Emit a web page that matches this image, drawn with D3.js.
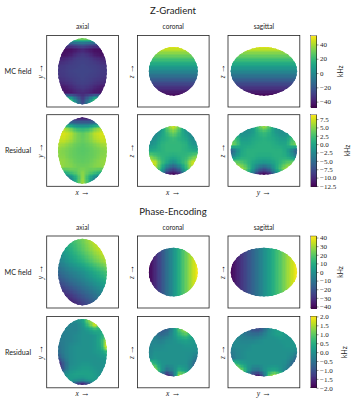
<!DOCTYPE html>
<html>
<head>
  <meta charset="utf-8">
  <title>Z-Gradient / Phase-Encoding</title>
  <script src="https://d3js.org/d3.v7.min.js"></script>
  <style>
  html, body { margin: 0; padding: 0; background: #fff; }
  svg { display: block; }
  text { fill: #222; }
  .sans { font-family: Lato, "Open Sans", sans-serif; }
  .serif { font-family: "Liberation Serif", serif; }
  .arrow { font-family: "Liberation Serif", serif; font-size: 9px; }
  .frame { fill: none; stroke: #222; stroke-width: 0.8px; }
  .cell { shape-rendering: crispEdges; }
  .cbar .domain { stroke: #222; stroke-width: 0.4px; }
  .cbar line { stroke: #222; stroke-width: 0.5px; }
  .cbar text { font-family: "Liberation Serif", serif; font-size: 7px; }
  </style>
</head>
<body>
  <svg id="chart" width="356" height="400"></svg>
  <script>
// values in kHz, grid rows run top to bottom, columns left to right
const zFieldAxial = [
  [35,35,35,35,35,35,35,35,35],
  [-24,-24,-22,-18,-15,-18,-22,-24,-24],
  [-42,-44,-44,-41,-37,-41,-44,-44,-42],
  [-43,-43,-40,-34,-31,-34,-40,-43,-43],
  [-37,-35,-32,-29,-28,-29,-32,-35,-37],
  [-32,-31,-29,-28,-27,-28,-29,-31,-32],
  [-31,-30,-28,-27,-27,-27,-28,-30,-31],
  [-32,-31,-29,-28,-27,-28,-29,-31,-32],
  [-36,-34,-32,-29,-28,-29,-32,-34,-36],
  [-42,-41,-37,-33,-31,-33,-37,-41,-42],
  [-30,-42,-42,-38,-36,-38,-42,-42,-30],
  [25,25,20,-10,-30,-10,20,25,25],
  [35,35,35,0,-25,0,35,35,35]
];
const zFieldCoronal = [
  [48,48,48],[35,35,35],[22,22,22],[10,10,10],[-2,-2,-2],
  [-14,-14,-14],[-26,-26,-26],[-36,-36,-36],[-45,-45,-45]
];
const zFieldSagittal = [
  [48,48,48],[34,34,34],[22,22,22],[10,10,10],[-1,-1,-1],
  [-13,-13,-13],[-25,-25,-25],[-35,-35,-35],[-46,-46,-46]
];
const zResAxial = [
  [-11,-11,-11,-11,-11,-11,-11,-11,-11],
  [-4,-4,-5,-6,-6,-6,-5,-4,-4],
  [6,6,4,1.5,1,1.5,4,6,6],
  [7.5,7.5,6.5,4.5,3.5,4.5,6.5,7.5,7.5],
  [7,7,6,4.5,3.8,4.5,6,7,7],
  [6,5.5,4.6,3.8,3.4,3.8,4.6,5.5,6],
  [5,4.6,4,3.5,3.2,3.5,4,4.6,5],
  [5,4.8,4,3.6,3.4,3.6,4,4.8,5],
  [5.6,5.2,4.5,3.8,3.6,3.8,4.5,5.2,5.6],
  [6,5,4.8,4.2,4,4.2,4.8,5,6],
  [0,1,2.5,3.5,5,3.5,2.5,1,0],
  [-7,-6,-3,1,5.5,1,-3,-6,-7],
  [-7,-7,-5,2,6,2,-5,-7,-7]
];
const zResCoronal = [
  [-3,-3,-2,4,7.5,4,-2,-3,-3],
  [-3,-3,-1,2,4.5,2,-1,-3,-3],
  [-3,-2,0,1,2,1,0,-2,-3],
  [-2,-1,1,1.5,1.5,1.5,1,-1,-2],
  [0,0.5,1,1.5,1.5,1.5,1,0.5,0],
  [5,3,1.5,1,0.5,1,1.5,3,5],
  [8,7,2.5,0,-2.5,0,2.5,7,8],
  [6,6,1,-5,-8,-5,1,6,6],
  [3,2,-3,-11,-12.5,-11,-3,2,3]
];
const zResSagittal = [
  [-2,-2,-2,-2,-1,3,6,3,-1,-2,-2,-2,-2],
  [0,-1,-2,-2,-1,1,2,1,-1,-2,-2,-1,0],
  [3,2,-1,-1,0,0.5,1,0.5,0,-1,-1,2,3],
  [5,3,0,0,0.5,1,1,1,0.5,0,0,3,5],
  [-7,-3,0,1,1,1,1,1,1,1,0,-3,-7],
  [-4,-1,0.5,1,1,0.5,0.5,0.5,1,1,0.5,-1,-4],
  [5,4,3,1.5,0,-1,-1.5,-1,0,1.5,3,4,5],
  [7,7,6,3,-1,-5,-7,-5,-1,3,6,7,7],
  [5,5,3,0,-5,-11,-12.5,-11,-5,0,3,5,5]
];
const peFieldAxial = [
  [5,15,24,36,41],
  [0,10,20,30,40],
  [-6,4,12,22,32],
  [-14,-6,0,9,18],
  [-24,-15,-8,0,8],
  [-34,-27,-18,-10,0],
  [-41,-37,-28,-18,-8]
];
const peFieldCoronal = [
  [-41,-32,-22,-11,0,11,22,32,41],
  [-41,-32,-22,-11,0,11,22,32,41],
  [-41,-32,-22,-11,0,11,22,32,41]
];
const peFieldSagittal = [
  [-41,-32,-22,-12,-1,9,20,31,41],
  [-41,-32,-22,-12,-1,9,20,31,41],
  [-41,-32,-22,-12,-1,9,20,31,41]
];
const peResAxial = [
  [0,0,0,0,0.3,1.4,1.2,0.5,0],
  [-0.3,-0.2,-0.2,-0.2,0.1,0.9,1.8,0.9,0.5],
  [-0.3,-0.3,-0.2,-0.2,0,0.2,0.5,0.4,0.4],
  [-0.3,-0.3,-0.2,-0.1,0,0,0.1,0.4,1],
  [-0.4,-0.3,-0.2,-0.1,0,0,0.1,0.5,1.7],
  [-0.5,-0.3,-0.1,0,0,0,0.1,0.4,1.9],
  [-0.6,-0.3,-0.1,0,0,0,0.1,0.2,0.6],
  [-0.9,-0.4,-0.1,0,0,0,0,0.1,0.1],
  [-1.6,-0.7,-0.1,0,0.1,0.1,0,0,0.1],
  [-1.8,-0.7,0,0.1,0.2,0.2,0.1,0,0],
  [-0.5,-0.1,0.2,0.3,0.3,0.3,0.2,0,0],
  [-0.2,0.1,0.2,0.1,0,0.2,0.2,0,0],
  [-0.2,-0.1,-0.4,-1.4,-1.9,-1.2,-0.1,0,0]
];
const peResCoronal = [
  [-0.3,-0.5,-1,-0.8,-0.1,1,1.6,0.8,0.3],
  [-0.3,-0.4,-0.7,-0.5,0,0.6,1,0.5,0.2],
  [-0.2,-0.2,-0.3,-0.1,0,0.2,0.3,0.2,0.1],
  [-0.2,-0.1,-0.1,0,0,0,0.1,0.1,0],
  [-0.2,0,0,0,0,0,0,0,-0.1],
  [-0.1,0.1,0,0,0,0,0,-0.1,-0.5],
  [1,0.6,0.1,0,0,0,0,-0.3,-1.2],
  [2,1.5,0.2,-0.5,-0.2,0.5,0.2,-0.3,-1],
  [1.5,1,-0.9,-1.9,-0.9,1.7,1.4,0,-0.5]
];
const peResSagittal = [
  [-0.2,-0.2,-0.4,-0.7,-1.1,-1.2,-0.7,-0.1,0.2,0.3,0.2,0,0],
  [-0.1,-0.2,-0.3,-0.5,-0.6,-0.6,-0.3,0,0.2,0.3,0.1,0,0],
  [-0.1,-0.1,-0.2,-0.2,-0.2,-0.1,0,0,0,0.1,0.1,0.1,0.1],
  [-0.2,-0.1,-0.1,-0.1,0,0,0,0,0,0,0.1,0.1,0.1],
  [-0.4,-0.2,-0.1,0,0,0,0,0,0,0,0,0,-0.2],
  [-0.6,-0.2,-0.1,0,0,0,0,0,0,0,0,-0.2,-0.7],
  [1,0.7,0.3,0.1,0,0,0,0,0,0,-0.1,-0.6,-1.3],
  [2,1.8,1.2,0.2,-0.4,-0.5,0,0.3,0.4,0.1,-0.3,-0.6,-1],
  [1.5,1.5,0.8,-0.5,-1.6,-2,-0.8,1.2,1.9,1,0,-0.3,-0.5]
];

const zFieldDomain = [-47.5, 52.5];
const zResDomain = [-12.6, 8.8];
const peFieldDomain = [-41.8, 41.8];
const peResDomain = [-2, 2];
const zFieldTicks = [-40, -20, 0, 20, 40];
const zResTicks = [-12.5, -10, -7.5, -5, -2.5, 0, 2.5, 5, 7.5];
const peFieldTicks = [-40, -30, -20, -10, 0, 10, 20, 30, 40];
const peResTicks = [-2, -1.5, -1, -0.5, 0, 0.5, 1, 1.5, 2];

const viewNames = ["axial", "coronal", "sagittal"];
const viewAxes = [["x", "y"], ["x", "z"], ["y", "z"]];
const rowNames = ["MC field", "Residual"];
const blockTitles = ["Z-Gradient", "Phase-Encoding"];

// half extent of the head along each axis, the frame runs from -1 to 1
const semi = { x: 0.68, y: 0.925, z: 0.675 };

const svg = d3.select("#chart");

const colLeft = [46.7, 137.4, 228];
const colRight = [118.4, 209.1, 299.8];
const cell = 0.0375;

function sample(grid, u, v) {
  // u,v in 0..1 across the grid, bilinear like imshow interpolation
  const ny = grid.length, nx = grid[0].length;
  const fx = Math.min(Math.max(u, 0), 1) * (nx - 1), fy = Math.min(Math.max(v, 0), 1) * (ny - 1);
  const x0 = Math.min(Math.floor(fx), nx - 2), y0 = Math.min(Math.floor(fy), ny - 2);
  const tx = fx - x0, ty = fy - y0;
  return (grid[y0][x0] * (1 - tx) + grid[y0][x0 + 1] * tx) * (1 - ty)
       + (grid[y0 + 1][x0] * (1 - tx) + grid[y0 + 1][x0 + 1] * tx) * ty;
}

function axisLabel(sel, name) {
  sel.append("tspan").attr("class", "serif").attr("font-style", "italic").text(name);
  sel.append("tspan").attr("class", "arrow").attr("dx", 2).text("→");
}

let clipId = 0;
function drawPanel(grid, col, top, bottom, domain, showX, rowName) {
  const x = d3.scaleLinear().domain([-1, 1]).range([colLeft[col], colRight[col]]);
  const y = d3.scaleLinear().domain([-1, 1]).range([top, bottom]);
  const color = d3.scaleSequential(d3.interpolateViridis).domain(domain);
  const [hName, vName] = viewAxes[col];
  const sx = semi[hName], sy = semi[vName];
  const id = "clip" + (clipId++);
  svg.append("clipPath").attr("id", id).append("ellipse")
    .attr("cx", x(0)).attr("cy", y(0))
    .attr("rx", x(sx) - x(0)).attr("ry", y(sy) - y(0));

  const us = d3.scaleLinear().domain([-sx, sx]).range([0, 1]);
  const vs = d3.scaleLinear().domain([-sy, sy]).range([0, 1]);
  const cells = [];
  d3.range(-sx - cell, sx + cell, cell).forEach(a => {
    d3.range(-sy - cell, sy + cell, cell).forEach(b => {
      cells.push({ a: a, b: b, v: sample(grid, us(a + cell / 2), vs(b + cell / 2)) });
    });
  });
  svg.append("g").attr("clip-path", "url(#" + id + ")")
    .selectAll("rect").data(cells).enter().append("rect")
    .attr("class", "cell")
    .attr("x", d => x(d.a)).attr("y", d => y(d.b))
    .attr("width", x(cell) - x(0) + 0.7).attr("height", y(cell) - y(0) + 0.7)
    .attr("fill", d => color(d.v));

  svg.append("rect").attr("class", "frame")
    .attr("x", x(-1)).attr("y", y(-1))
    .attr("width", x(1) - x(-1)).attr("height", y(1) - y(-1));

  if (showX) {
    svg.append("text").attr("font-size", 7.5)
      .attr("text-anchor", "middle").attr("x", x(0)).attr("y", bottom + 8.5)
      .call(axisLabel, hName);
  }
  svg.append("text").attr("font-size", 7.5)
    .attr("text-anchor", "middle")
    .attr("transform", "translate(" + (x(-1) - 3.5) + "," + y(0) + ") rotate(-90)")
    .call(axisLabel, vName);

  if (rowName) {
    svg.append("text").attr("class", "sans").attr("font-size", 7.2)
      .attr("text-anchor", "middle").attr("x", 18).attr("y", y(0) + 2.5).text(rowName);
  }
}

function drawColorbar(top, bottom, domain, ticks, labelX) {
  const scale = d3.scaleLinear().domain(domain).range([bottom, top]);
  const color = d3.scaleSequential(d3.interpolateViridis).domain(domain);
  const steps = d3.range(0, 72).map(i => domain[0] + (domain[1] - domain[0]) * i / 72);
  const dv = (domain[1] - domain[0]) / 72;
  svg.append("g").selectAll("rect").data(steps).enter().append("rect")
    .attr("class", "cell")
    .attr("x", 310.5).attr("width", 6)
    .attr("y", d => scale(d + dv)).attr("height", d => scale(d) - scale(d + dv) + 0.6)
    .attr("fill", d => color(d));
  const axis = d3.axisRight(scale).tickValues(ticks).tickSize(2).tickPadding(1.5)
    .tickFormat(d => {
      const s = ticks.some(t => t % 1 !== 0) ? d.toFixed(1) : String(d);
      return s.replace("-", "\u2212");
    });
  const g = svg.append("g").attr("class", "cbar").attr("transform", "translate(316.5,0)").call(axis);
  g.select(".domain").attr("d", "M0," + top + "V" + bottom);
  svg.append("rect").attr("class", "frame").style("stroke-width", "0.4px")
    .attr("x", 310.5).attr("y", top).attr("width", 6).attr("height", bottom - top);
  svg.append("text").attr("class", "sans").attr("font-size", 6.8)
    .attr("text-anchor", "middle")
    .attr("transform", "translate(" + labelX + "," + ((top + bottom) / 2) + ") rotate(-90)")
    .text("kHz");
}

function drawTitle(text, y) {
  svg.append("text").attr("class", "sans").attr("font-size", 9.6)
    .attr("text-anchor", "middle").attr("x", 173).attr("y", y).text(text);
}
function drawViewNames(y) {
  viewNames.forEach((n, i) => {
    svg.append("text").attr("class", "sans").attr("font-size", 6.6)
      .attr("text-anchor", "middle").attr("x", (colLeft[i] + colRight[i]) / 2).attr("y", y).text(n);
  });
}

// Z-Gradient
drawTitle(blockTitles[0], 14);
drawViewNames(28.5);
[zFieldAxial, zFieldCoronal, zFieldSagittal].forEach((g, i) =>
  drawPanel(g, i, 35.5, 107, zFieldDomain, false, i === 0 ? rowNames[0] : null));
[zResAxial, zResCoronal, zResSagittal].forEach((g, i) =>
  drawPanel(g, i, 114.7, 186.3, zResDomain, true, i === 0 ? rowNames[1] : null));
drawColorbar(35.5, 107, zFieldDomain, zFieldTicks, 343);
drawColorbar(114.7, 186.3, zResDomain, zResTicks, 349.5);

// Phase-Encoding
drawTitle(blockTitles[1], 215);
drawViewNames(229.5);
[peFieldAxial, peFieldCoronal, peFieldSagittal].forEach((g, i) =>
  drawPanel(g, i, 236, 308, peFieldDomain, false, i === 0 ? rowNames[0] : null));
[peResAxial, peResCoronal, peResSagittal].forEach((g, i) =>
  drawPanel(g, i, 316.4, 387.8, peResDomain, true, i === 0 ? rowNames[1] : null));
drawColorbar(236, 308, peFieldDomain, peFieldTicks, 343);
drawColorbar(316.4, 387.8, peResDomain, peResTicks, 346.5);
  </script>
</body>
</html>
